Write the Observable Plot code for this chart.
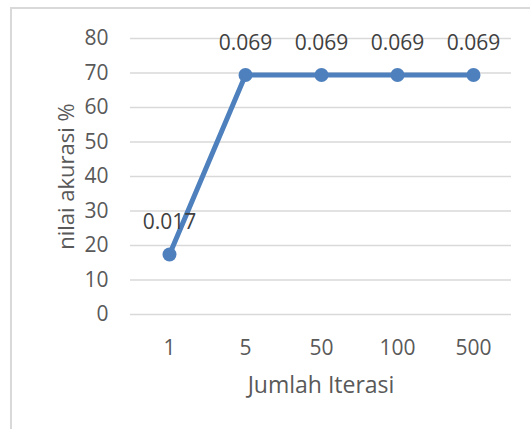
<!DOCTYPE html>
<html>
<head>
<meta charset="utf-8">
<script src="https://cdn.jsdelivr.net/npm/d3@7"></script>
<script src="https://cdn.jsdelivr.net/npm/@observablehq/plot@0.6"></script>
<style>
  html, body { margin: 0; padding: 0; background: #fff; }
  #wrap { position: relative; width: 530px; height: 429px; overflow: hidden; }
  #border { position: absolute; left: 10px; top: 7px; width: 600px; height: 600px; border-left: 2px solid #d9d9d9; border-top: 2px solid #d9d9d9; box-sizing: border-box; }
  #chart { position: absolute; left: 0; top: 0; }
</style>
</head>
<body>
<div id="wrap"><div id="border"></div><div id="chart"></div></div>
<script>
const categories = ["1", "5", "50", "100", "500"];
const accuracy = [17.4, 69.4, 69.4, 69.4, 69.4];
const pointLabels = ["0.017", "0.069", "0.069", "0.069", "0.069"];
const yTicks = [0, 10, 20, 30, 40, 50, 60, 70, 80];

const data = categories.map((c, i) => ({iter: c, value: accuracy[i], label: pointLabels[i]}));

const chart = Plot.plot({
  width: 530,
  height: 429,
  marginLeft: 130,
  marginRight: 19,
  marginTop: 38,
  marginBottom: 115,
  style: {fontFamily: "'Open Sans', sans-serif", fontSize: "21px", background: "transparent", color: "#595959"},
  x: {type: "point", domain: categories, padding: 0.5},
  y: {domain: [0, 80]},
  marks: [
    Plot.gridY(yTicks, {stroke: "#d9d9d9", strokeOpacity: 1, strokeWidth: 1.5}),
    Plot.axisY(yTicks, {tickSize: 0, tickPadding: 22, fill: "#595959", label: null, fontSize: 21}),
    Plot.axisY({ticks: [], tickSize: 0, label: "nilai akurasi %", labelAnchor: "center", labelOffset: 72, labelArrow: "none", fontSize: 22, fill: "#595959"}),
    Plot.axisX({tickSize: 0, tickPadding: 26, fill: "#595959", label: null, fontSize: 21}),
    Plot.axisX({ticks: [], tickSize: 0, label: "Jumlah Iterasi", labelAnchor: "center", labelOffset: 78, labelArrow: "none", fontSize: 23, fill: "#595959"}),
    Plot.line(data, {x: "iter", y: "value", stroke: "#4e80bd", strokeWidth: 5}),
    Plot.dot(data, {x: "iter", y: "value", r: 7, fill: "#4e80bd"}),
    Plot.text(data, {x: "iter", y: "value", text: "label", dy: -32, fill: "#404040", fontSize: 21})
  ]
});
document.getElementById("chart").appendChild(chart);
</script>
</body>
</html>
